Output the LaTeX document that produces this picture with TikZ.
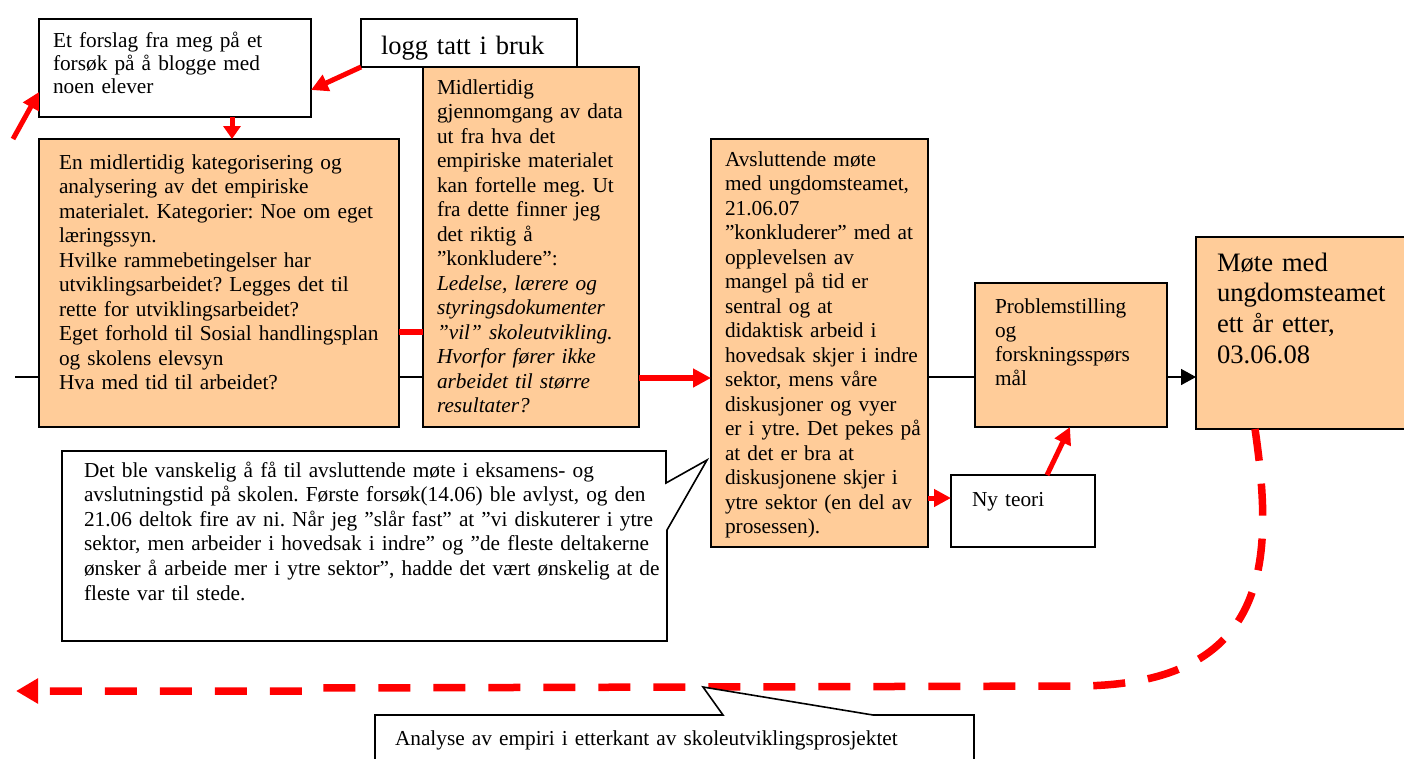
\documentclass[tikz,border=0pt]{standalone}
\usepackage{fontspec}
\setmainfont{Liberation Serif}
\usetikzlibrary{arrows.meta}
\definecolor{boxorange}{RGB}{255,204,153}
\definecolor{pathred}{RGB}{255,0,0}
\newcommand\bodysize{\fontsize{21.3}{24.5}\selectfont}
\newcommand\largesize{\fontsize{26.6}{30.8}\selectfont}
\frenchspacing

\begin{document}
\begin{tikzpicture}[
  x=1pt, y=-1pt,
  box/.style={draw=black, line width=1.6pt, inner sep=0pt, outer sep=0pt, anchor=north west},
  orangebox/.style={box, fill=boxorange},
  whitebox/.style={box, fill=white},
  txt/.style={anchor=base west, inner sep=0pt, outer sep=0pt, align=left, text width=#1, font=\bodysize},
  txt/.default=330pt,
  timeline/.style={draw=black, line width=1.5pt},
  redlink/.style={draw=pathred, line width=5pt, -{Triangle[length=17pt,width=17pt]}},
  calloutline/.style={draw=black, line width=1.6pt, fill=white, line join=miter},
  laterpath/.style={draw=pathred, line width=7.5pt, dash pattern=on 32pt off 23pt, -{Triangle[length=22pt,width=24pt]}},
]
\useasboundingbox (0,0) rectangle (1404,758);

% horizontal levels of the connectors
\coordinate (lvmain) at (0,377);
\coordinate (lvred) at (0,332);
\coordinate (lvmid) at (0,378);
\coordinate (lvnew) at (0,498);
\coordinate (lvforslag) at (0,90);
\coordinate (lvin) at (0,92);
\coordinate (xdown) at (232,0);
\coordinate (xup1) at (1047,0);
\coordinate (xup2) at (1070,0);
\coordinate (xdash) at (1255,0);
\coordinate (tlstart) at (15,377);
\coordinate (outside) at (13,139);
\coordinate (laterend) at (16,691);

% boxes
\node[whitebox, minimum width=272pt, minimum height=98pt] (forslag) at (39,19) {};
\node[whitebox, minimum width=216pt, minimum height=48pt] (logg) at (361,19) {};
\node[orangebox, minimum width=360pt, minimum height=288pt] (kategori) at (39,139) {};
\node[orangebox, minimum width=216pt, minimum height=360pt] (gjennom) at (423,67) {};
\node[orangebox, minimum width=217pt, minimum height=408pt] (avslutt) at (711,139) {};
\node[orangebox, minimum width=192pt, minimum height=144pt] (problem) at (975,283) {};
\node[orangebox, minimum width=214pt, minimum height=192pt] (etteraar) at (1196,237) {};
\node[whitebox, minimum width=144pt, minimum height=72pt] (teori) at (951,475) {};

% box texts
\node[txt, font={\fontsize{21.3}{23.3}\selectfont}] (forslagtxt) at (53,47)
  {Et forslag fra meg på et\\forsøk på å blogge med\\noen elever};
\node[txt, font={\fontsize{26.5}{30}\selectfont}] (loggtxt) at (381,54) {logg tatt i bruk};
\node[txt] (kategoritxt) at (59,169)
  {En midlertidig kategorisering og\\
   analysering av det empiriske\\
   materialet. Kategorier: Noe om eget\\
   læringssyn.\\
   Hvilke rammebetingelser har\\
   utviklingsarbeidet? Legges det til\\
   rette for utviklingsarbeidet?\\
   Eget forhold til Sosial handlingsplan\\
   og skolens elevsyn\\
   Hva med tid til arbeidet?};
\node[txt] (gjennomtxt) at (437,94)
  {Midlertidig\\
   gjennomgang av data\\
   ut fra hva det\\
   empiriske materialet\\
   kan fortelle meg. Ut\\
   fra dette finner jeg\\
   det riktig å\\
   ”konkludere”:\\
   \itshape Ledelse, lærere og\\
   \itshape styringsdokumenter\\
   \itshape ”vil” skoleutvikling.\\
   \itshape Hvorfor fører ikke\\
   \itshape arbeidet til større\\
   \itshape resultater?};
\node[txt] (avsluttxt) at (725,166)
  {Avsluttende møte\\
   med ungdomsteamet,\\
   21.06.07\\
   ”konkluderer” med at\\
   opplevelsen av\\
   mangel på tid er\\
   sentral og at\\
   didaktisk arbeid i\\
   hovedsak skjer i indre\\
   sektor, mens våre\\
   diskusjoner og vyer\\
   er i ytre. Det pekes på\\
   at det er bra at\\
   diskusjonene skjer i\\
   ytre sektor (en del av\\
   prosessen).};
\node[txt, font={\fontsize{21.3}{24.3}\selectfont}] (problemtxt) at (995,313)
  {Problemstilling\\og\\forskningsspørs\\mål};
\node[txt, font=\largesize] (etteraartxt) at (1217,271)
  {Møte med\\ungdomsteamet\\ett år etter,\\03.06.08};
\node[txt] (teoritxt) at (972,506) {Ny teori};

% timeline and connectors
\draw[timeline] (tlstart) -- (kategori.west |- lvmain);
\draw[timeline] (kategori.east |- lvmain) -- (gjennom.west |- lvmain);
\draw[draw=pathred, line width=5.5pt] (kategori.east |- lvred) -- (gjennom.west |- lvred);
\draw[redlink, line width=6pt, -{Triangle[length=18pt,width=18pt]}] (gjennom.east |- lvmid) -- (avslutt.west |- lvmid);
\draw[timeline] (avslutt.east |- lvmain) -- (problem.west |- lvmain);
\draw[timeline, -{Triangle[length=15pt,width=16pt]}] (problem.east |- lvmain) -- (etteraar.west |- lvmain);

\draw[redlink, -{Triangle[length=13pt,width=17pt]}] (forslag.south -| xdown) -- (kategori.north -| xdown);
\draw[redlink] (logg.south west) -- (forslag.east |- lvforslag);
\draw[redlink] (outside) -- (forslag.west |- lvin);
\draw[redlink] (avslutt.east |- lvnew) -- (teori.west |- lvnew);
\draw[redlink] (teori.north -| xup1) -- (problem.south -| xup2);

% comment bubble on the closing meeting
\path[calloutline] (62,451) -- (666,451) -- (666,483) -- (707,460) -- (667,530)
  -- (667,641) -- (62,641) -- cycle;
\node[txt, font={\fontsize{21.3}{24.6}\selectfont}, text width=600pt] (kommentar) at (84,477)
  {Det ble vanskelig å få til avsluttende møte i eksamens- og\\
   avslutningstid på skolen. Første forsøk(14.06) ble avlyst, og den\\
   21.06 deltok fire av ni. Når jeg ”slår fast” at ”vi diskuterer i ytre\\
   sektor, men arbeider i hovedsak i indre” og ”de fleste deltakerne\\
   ønsker å arbeide mer i ytre sektor”, hadde det vært ønskelig at de\\
   fleste var til stede.};

% analysis phase after the project
\draw[laterpath] (etteraar.south -| xdash) .. controls (1274,560) and (1272,684) .. (1080,686)
  -- (318,688) -- (316,691) -- (laterend);

\path[calloutline] (375,715) -- (723,715) -- (703,687) -- (873,715) -- (974,715)
  -- (974,775) -- (375,775) -- cycle;
\node[txt, text width=580pt] (analysetxt) at (395,745)
  {Analyse av empiri i etterkant av skoleutviklingsprosjektet};
\end{tikzpicture}
\end{document}
